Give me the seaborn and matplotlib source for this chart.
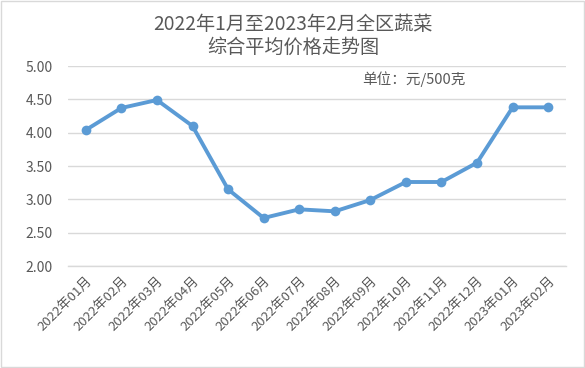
import matplotlib
matplotlib.use("Agg")
import matplotlib.pyplot as plt
import seaborn as sns
import pandas as pd
from matplotlib.patches import Rectangle

# Data
months = ["2022年01月", "2022年02月", "2022年03月", "2022年04月", "2022年05月",
          "2022年06月", "2022年07月", "2022年08月", "2022年09月", "2022年10月",
          "2022年11月", "2022年12月", "2023年01月", "2023年02月"]
prices = [4.04, 4.37, 4.49, 4.10, 3.15, 2.72, 2.85, 2.82, 2.99, 3.26,
          3.26, 3.55, 4.38, 4.38]
yticks = [2.00, 2.50, 3.00, 3.50, 4.00, 4.50, 5.00]

df = pd.DataFrame({"month": months, "price": prices})

sns.set_style("white")
plt.rcParams['font.family'] = ['Noto Sans CJK SC', 'DejaVu Sans']

text_color = "#595959"
line_color = "#5B9BD5"
grid_color = "#D9D9D9"

fig = plt.figure(figsize=(5.85, 3.68), dpi=100)
ax = fig.add_axes([68/585, 1 - 266/368, (566 - 68)/585, 200/368])

sns.lineplot(data=df, x="month", y="price", sort=False, ax=ax,
             color=line_color, linewidth=2.8, marker="o", markersize=7,
             markeredgewidth=0)

ax.set_xlim(-0.5, len(months) - 0.5)
ax.set_ylim(2.0, 5.0)
ax.set_yticks(yticks)
ax.set_yticklabels([f"{v:.2f}" for v in yticks], color=text_color, fontsize=10)
ax.tick_params(axis="y", length=0, pad=11)

ax.set_xticks(range(len(months)))
ax.set_xticklabels(months, rotation=45, ha="right", va="top",
                   rotation_mode="anchor", color=text_color, fontsize=9.5)
ax.tick_params(axis="x", which="major", length=0, pad=6)
ax.set_xticks([i - 0.5 for i in range(len(months) + 1)], minor=True)
ax.tick_params(axis="x", which="minor", length=5, color=grid_color, width=1)

ax.grid(axis="y", color=grid_color, linewidth=1)
ax.set_axisbelow(True)
for side in ["left", "right", "top"]:
    ax.spines[side].set_visible(False)
ax.spines["bottom"].set_color(grid_color)
ax.spines["bottom"].set_linewidth(1)
ax.set_xlabel("")
ax.set_ylabel("")

fig.text(293/585, 1 - 24/368, "2022年1月至2023年2月全区蔬菜", ha="center", va="center",
         fontsize=13.8, color=text_color)
fig.text(293/585, 1 - 47/368, "综合平均价格走势图", ha="center", va="center",
         fontsize=13.8, color=text_color)
fig.text(362/585, 1 - 79/368, "单位：元/500克", ha="left", va="center",
         fontsize=10.5, color=text_color)

fig.patches.append(Rectangle((0.001, 0.002), 0.997, 0.995, transform=fig.transFigure,
                             fill=False, edgecolor="#D9D9D9", linewidth=1))

fig.savefig("out.png", dpi=100)
